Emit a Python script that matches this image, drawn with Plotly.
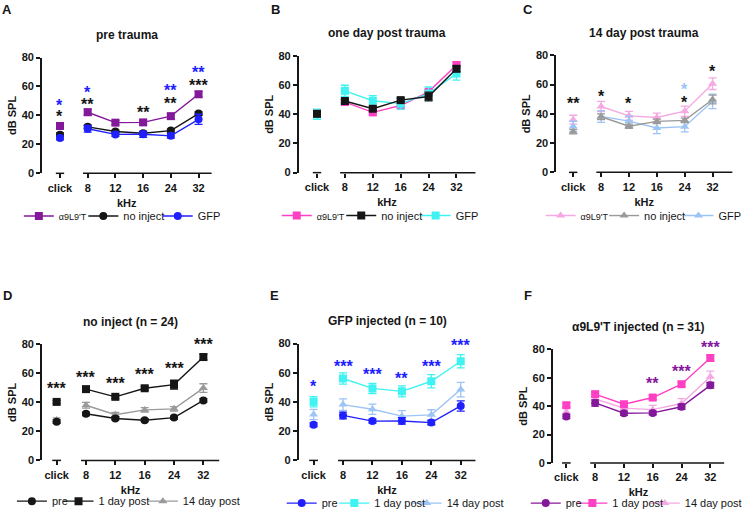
import plotly.graph_objects as go

# ---------------- data ----------------
categories = ['click', '8', '12', '16', '24', '32']

a9_pre = [32.7, 42.2, 35.0, 35.2, 39.5, 54.6]
ni_pre = [26.7, 32.1, 28.9, 27.7, 29.5, 41.3]
gfp_pre = [24.4, 30.8, 26.9, 27.0, 25.9, 37.3]
a9_1d = [40.6, 48.4, 41.3, 46.0, 55.4, 73.8]
ni_1d = [40.3, 49.1, 43.8, 49.7, 52.2, 71.2]
gfp_1d = [40.1, 56.1, 49.3, 47.3, 54.2, 67.9]
a9_14 = [36.0, 45.0, 38.6, 37.5, 41.8, 60.6]
ni_14 = [27.8, 38.0, 31.5, 34.8, 35.5, 49.8]
gfp_14 = [31.4, 38.2, 35.0, 30.3, 31.2, 48.5]

a9_pre_err = [1.5, 2.2, 1.5, 1.3, 1.8, 2.0]
ni_pre_err = [1.2, 1.2, 1.0, 1.0, 1.0, 1.2]
gfp_pre_err = [1.3, 2.3, 1.3, 2.2, 1.5, 3.5]
a9_1d_err = [1.5, 1.5, 1.5, 1.5, 1.5, 2.0]
ni_1d_err = [1.0, 1.2, 1.2, 1.2, 3.0, 2.0]
gfp_1d_err = [3.5, 3.8, 3.5, 3.8, 4.5, 4.5]
a9_14_err = [3.0, 3.5, 3.0, 3.0, 3.5, 4.0]
ni_14_err = [1.5, 2.0, 1.5, 1.5, 1.5, 3.0]
gfp_14_err = [3.5, 4.0, 3.5, 3.8, 3.5, 5.0]

# significance stars: category, y level, label
stars_A_cat = ['click', 'click', '8', '8', '16', '24', '24', '32', '32']
stars_A_y = [49.3, 42.0, 58.4, 50.5, 44.8, 60.2, 51.0, 72.5, 63.6]
stars_A_txt = ['*', '*', '*', '**', '**', '**', '**', '**', '***']
stars_A_grp = ['gfp', 'ni', 'gfp', 'ni', 'ni', 'gfp', 'ni', 'gfp', 'ni']

stars_C_cat = ['click', '8', '12', '24', '24', '32']
stars_C_y = [49.7, 54.8, 49.7, 59.3, 50.3, 71.7]
stars_C_txt = ['**', '*', '*', '*', '*', '*']
stars_C_grp = ['ni', 'ni', 'ni', 'gfp', 'ni', 'ni']

stars_D_cat = ['click', '8', '12', '16', '24', '32']
stars_D_y = [52.2, 60.0, 55.5, 61.7, 66.2, 82.3]
stars_D_txt = ['***', '***', '***', '***', '***', '***']

stars_E_cat = ['click', '8', '12', '16', '24', '32']
stars_E_y = [53.6, 67.1, 61.5, 58.6, 67.1, 81.5]
stars_E_txt = ['*', '***', '***', '**', '***', '***']

stars_F_cat = ['16', '24', '32']
stars_F_y = [59.0, 67.0, 84.0]
stars_F_txt = ['**', '***', '***']

y_ticks = [0, 20, 40, 60, 80]

# ---------------- styles ----------------
W, H = 747, 518
FONT = 'Arial, Liberation Sans, sans-serif'
INK = '#161616'
PURPLE = '#84189a'
BLUE = '#2020ff'
MAGENTA = '#ff40c4'
CYAN = '#40f2f2'
LPINK = '#f5a8e2'
GRAY = '#9a9a9a'
LBLUE = '#9cc4f4'

A9_SMALL = "<span style='font-size:9px'>α9L9'T</span>"

def S(name, vals, errs, color, symbol, text_x):
    return dict(name=name, vals=vals, errs=errs, color=color, symbol=symbol, text_x=text_x)

def stars(cats, ys, txts, colors):
    return list(zip(cats, ys, txts, colors))

panels = [
    dict(letter='A', letter_xy=(7.5, 10), title='pre trauma',
         px=(42.3, 213.3), py=(58.3, 175.7), xr=(-0.65, 5.47), legend_y=219,
         series=[S(A9_SMALL, a9_pre, a9_pre_err, PURPLE, 'square', 57),
                 S('no inject', ni_pre, ni_pre_err, INK, 'circle', 122),
                 S('GFP', gfp_pre, gfp_pre_err, BLUE, 'circle', 197)],
         stars=stars(stars_A_cat, stars_A_y, stars_A_txt,
                     [BLUE if g == 'gfp' else INK for g in stars_A_grp])),
    dict(letter='B', letter_xy=(278, 10), title='one day post trauma',
         px=(301, 479.3), py=(56.7, 175), xr=(-0.66, 5.68), legend_y=218.5,
         series=[S(A9_SMALL, a9_1d, a9_1d_err, MAGENTA, 'square', 317),
                 S('GFP', gfp_1d, gfp_1d_err, CYAN, 'square', 457),
                 S('no inject', ni_1d, ni_1d_err, INK, 'square', 382)],
         stars=[]),
    dict(letter='C', letter_xy=(532, 10), title='14 day post trauma',
         px=(560.7, 738.3), py=(56, 174.7), xr=(-0.61, 5.71), legend_y=218.5,
         series=[S(A9_SMALL, a9_14, a9_14_err, LPINK, 'triangle-up', 583),
                 S('GFP', gfp_14, gfp_14_err, LBLUE, 'triangle-up', 722),
                 S('no inject', ni_14, ni_14_err, GRAY, 'triangle-up', 647)],
         stars=stars(stars_C_cat, stars_C_y, stars_C_txt,
                     [LBLUE if g == 'gfp' else INK for g in stars_C_grp])),
    dict(letter='D', letter_xy=(7.5, 300), title='no inject (n = 24)',
         px=(42.3, 221), py=(349, 466.7), xr=(-0.5, 5.54), legend_y=508,
         series=[S('14 day post', ni_14, ni_14_err, GRAY, 'triangle-up', 182),
                 S('1 day post', ni_1d, ni_1d_err, INK, 'square', 97),
                 S('pre', ni_pre, ni_pre_err, INK, 'circle', 50)],
         stars=stars(stars_D_cat, stars_D_y, stars_D_txt, [INK] * len(stars_D_cat))),
    dict(letter='E', letter_xy=(277, 300), title='GFP injected (n = 10)',
         px=(301, 479.3), py=(348.3, 466.7), xr=(-0.51, 5.5), legend_y=510,
         series=[S('14 day post', gfp_14, gfp_14_err, LBLUE, 'triangle-up', 448),
                 S('1 day post', gfp_1d, gfp_1d_err, CYAN, 'square', 375),
                 S('pre', gfp_pre, gfp_pre_err, BLUE, 'circle', 322)],
         stars=stars(stars_E_cat, stars_E_y, stars_E_txt, [BLUE] * len(stars_E_cat))),
    dict(letter='F', letter_xy=(532, 300), title="α9L9'T injected (n = 31)",
         px=(557.3, 730), py=(354, 469.3), xr=(-0.47, 5.48), legend_y=510,
         series=[S('14 day post', a9_14, a9_14_err, LPINK, 'triangle-up', 688),
                 S('1 day post', a9_1d, a9_1d_err, MAGENTA, 'square', 615),
                 S('pre', a9_pre, a9_pre_err, PURPLE, 'circle', 568)],
         stars=stars(stars_F_cat, stars_F_y, stars_F_txt, [PURPLE] * len(stars_F_cat))),
]

fig = go.Figure()
y_range = [y_ticks[0], y_ticks[-1]]
layout = dict(width=W, height=H, margin=dict(l=0, r=0, t=0, b=0),
              paper_bgcolor='white', plot_bgcolor='white', template='none',
              font=dict(family=FONT, color=INK), showlegend=True)
annotations = []
shapes = []
legend_count = 0

for i, p in enumerate(panels, start=1):
    sfx = '' if i == 1 else str(i)
    xa, ya = 'x' + sfx, 'y' + sfx
    for s in p['series']:
        legend_count += 1
        leg = 'legend' if legend_count == 1 else 'legend%d' % legend_count
        marker = dict(color=s['color'], symbol=s['symbol'], size=8, line=dict(width=0))

        def err(arr, c=s['color']):
            return dict(type='data', array=arr, color=c, thickness=1.3, width=4)

        fig.add_trace(go.Scatter(
            x=categories[:1], y=s['vals'][:1], error_y=err(s['errs'][:1]),
            mode='markers', marker=marker, xaxis=xa, yaxis=ya,
            showlegend=False, cliponaxis=False, hoverinfo='skip'))
        fig.add_trace(go.Scatter(
            x=categories[1:], y=s['vals'][1:], error_y=err(s['errs'][1:]),
            mode='lines+markers', marker=marker, line=dict(color=s['color'], width=1.4),
            name=s['name'], legend=leg, xaxis=xa, yaxis=ya, cliponaxis=False))
        layout[leg] = dict(orientation='h', x=(s['text_x'] - 38) / W,
                           y=1 - p['legend_y'] / H, xanchor='left', yanchor='middle',
                           bgcolor='rgba(0,0,0,0)', borderwidth=0,
                           font=dict(family=FONT, size=11, color=INK),
                           itemclick=False, itemdoubleclick=False)

    x0, x1 = p['px']
    t, b = p['py']
    r0, r1 = p['xr']
    axis_common = dict(showgrid=False, zeroline=False, ticks='outside', ticklen=4,
                       tickwidth=1.5, tickcolor=INK,
                       tickfont=dict(family=FONT, size=11, color=INK, weight='bold'))
    layout['xaxis' + sfx] = dict(
        axis_common, domain=[x0 / W, x1 / W], range=[r0, r1], type='category',
        categoryorder='array', categoryarray=categories, showline=False,
        anchor=ya,
        title=dict(text='kHz', standoff=6,
                   font=dict(family=FONT, size=11, color=INK, weight='bold')))
    layout['yaxis' + sfx] = dict(
        axis_common, domain=[1 - b / H, 1 - t / H], range=y_range,
        tickvals=y_ticks, showline=True, linewidth=1.5, linecolor=INK,
        anchor=xa,
        title=dict(text='dB SPL', standoff=3,
                   font=dict(family=FONT, size=11, color=INK, weight='bold')))

    # broken x-axis line: a short segment under "click", then the main segment
    for a, bnd in ((-0.15, 0.15), (0.83, r1)):
        shapes.append(dict(type='line', xref=xa + ' domain', yref=ya + ' domain',
                           x0=(a - r0) / (r1 - r0), x1=(bnd - r0) / (r1 - r0),
                           y0=0, y1=0, line=dict(color=INK, width=1.5)))

    annotations.append(dict(text=p['letter'], x=p['letter_xy'][0] / W,
                            y=1 - p['letter_xy'][1] / H, xref='paper', yref='paper',
                            showarrow=False, xanchor='center', yanchor='middle',
                            font=dict(family=FONT, size=13, color=INK, weight='bold')))
    annotations.append(dict(text=p['title'], x=(x0 + x1) / 2 / W,
                            y=1 - (t - 23) / H, xref='paper', yref='paper',
                            showarrow=False, xanchor='center', yanchor='middle',
                            font=dict(family=FONT, size=12, color=INK, weight='bold')))
    for cat, yv, txt, col in p['stars']:
        # y given through the axis domain so stars above the top tick stay visible
        annotations.append(dict(text=txt, x=categories.index(cat),
                                y=(yv - y_range[0]) / (y_range[1] - y_range[0]),
                                xref=xa, yref=ya + ' domain',
                                showarrow=False, xanchor='center', yanchor='middle',
                                yshift=-4,
                                font=dict(family=FONT, size=16, color=col, weight='bold')))

layout['annotations'] = annotations
layout['shapes'] = shapes
fig.update_layout(**layout)
fig.write_html('out.html', config={'displayModeBar': False},
               post_script="document.body.style.margin='0px';document.body.style.overflow='hidden';")
